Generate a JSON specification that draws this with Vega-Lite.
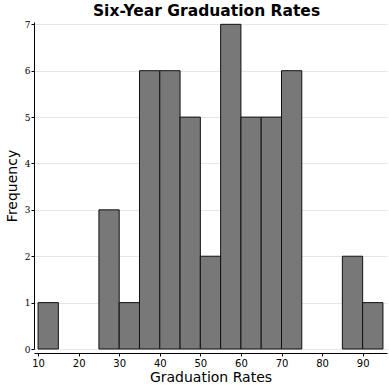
{
  "$schema": "https://vega.github.io/schema/vega-lite/v6.json",
  "autosize": "none",
  "width": 353,
  "height": 327,
  "padding": {"left": 34, "top": 22, "right": 2, "bottom": 38},
  "background": "white",
  "title": {"text": "Six-Year Graduation Rates", "font": "DejaVu Sans", "fontSize": 15.5, "fontWeight": "bold", "color": "black", "offset": 1, "anchor": "middle", "dx": -4},
  "data": {"values": [
    {"start": 10, "end": 15, "count": 1},
    {"start": 25, "end": 30, "count": 3},
    {"start": 30, "end": 35, "count": 1},
    {"start": 35, "end": 40, "count": 6},
    {"start": 40, "end": 45, "count": 6},
    {"start": 45, "end": 50, "count": 5},
    {"start": 50, "end": 55, "count": 2},
    {"start": 55, "end": 60, "count": 7},
    {"start": 60, "end": 65, "count": 5},
    {"start": 65, "end": 70, "count": 5},
    {"start": 70, "end": 75, "count": 6},
    {"start": 85, "end": 90, "count": 2},
    {"start": 90, "end": 95, "count": 1}
  ]},
  "mark": {"type": "rect", "fill": "#787878", "stroke": "#111111", "strokeWidth": 1},
  "encoding": {
    "x": {"field": "start", "type": "quantitative", "scale": {"domain": [9, 96], "nice": false, "zero": false},
      "axis": {"title": "Graduation Rates", "values": [10,20,30,40,50,60,70,80,90], "grid": false, "offset": 4, "domainColor": "black", "tickColor": "black", "tickSize": 3, "labelFont": "DejaVu Sans", "labelFontSize": 10, "labelColor": "black", "titleFont": "DejaVu Sans", "titleFontSize": 14, "titleFontWeight": "normal", "titleColor": "black", "titlePadding": 2, "labelPadding": 2}},
    "x2": {"field": "end"},
    "y": {"field": "count", "type": "quantitative", "scale": {"domain": [0, 7.05], "nice": false},
      "axis": {"title": "Frequency", "values": [0,1,2,3,4,5,6,7], "grid": true, "gridColor": "#e6e6e6", "domainColor": "black", "tickColor": "black", "tickSize": 3, "labelFont": "DejaVu Serif", "labelFontSize": 9, "labelColor": "black", "titleFont": "DejaVu Sans", "titleFontSize": 14, "titleFontWeight": "normal", "titleColor": "black", "titlePadding": 5, "labelPadding": 1}},
    "y2": {"datum": 0}
  },
  "config": {"view": {"stroke": null}}
}
